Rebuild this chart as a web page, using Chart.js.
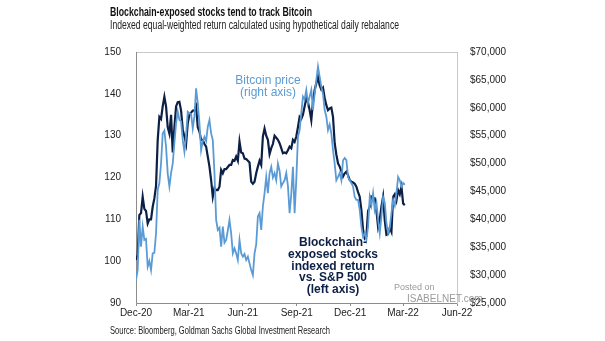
<!DOCTYPE html>
<html>
<head>
<meta charset="utf-8">
<script src="https://cdn.jsdelivr.net/npm/chart.js@4.4.1/dist/chart.umd.min.js"></script>
<style>
  html, body { margin: 0; padding: 0; background: #ffffff; }
  #wrap { width: 605px; height: 341px; }
</style>
</head>
<body>
<div id="wrap"><canvas id="btcChart" width="605" height="341"></canvas></div>
<script>
// sample spacing in days from 1 Dec 2020 (first sample) - one reading every ~2.85 days
const stepDays = 2.845;

// x axis ticks (days since 1 Dec 2020) and their labels
const tickDays = [0, 90, 182, 274, 365, 455, 547];
const tickLabels = ['Dec-20', 'Mar-21', 'Jun-21', 'Sep-21', 'Dec-21', 'Mar-22', 'Jun-22'];

// Blockchain-exposed stocks indexed return vs. S&P 500 (left axis)
const blockchainIdx = [
  100.3, 101.5, 111, 111.5, 115.4, 112.5, 112, 109, 110, 110,
  113, 115, 118, 129, 134.5, 134, 137, 139.3, 137, 132,
  130.5, 135, 126, 132, 137, 138, 138.1, 136, 131.5, 129.8,
  128, 133, 135, 135.5, 136, 136, 137, 132, 131, 129,
  129, 128, 127.4, 125, 122.6, 119.4, 115.4, 117.5, 117, 117,
  117.8, 121.8, 121, 122, 122, 122.5, 123, 123, 124.2, 124,
  125, 124, 128.6, 126, 125.8, 124.5, 124.4, 124, 123.6, 119,
  118.5, 119, 121, 122.6, 124, 123, 129.8, 131.7, 130, 129,
  125.6, 127, 128, 130, 129.5, 129, 128.2, 127, 125.8, 126,
  125.8, 126.5, 127.4, 127, 129, 128.5, 129.8, 132, 134.5, 134,
  135, 137, 138.9, 138, 136.1, 133.7, 138.1, 140.9, 142.5, 144.1,
  142, 141, 141.5, 139, 137.3, 136.1, 136.5, 136.7, 134.5, 128.2,
  125.5, 123.4, 122.6, 121.5, 120.2, 121, 121.4, 120.5, 119.4, 119,
  118.8, 118.5, 117.8, 116.5, 115.4, 112.2, 107.5, 105.5, 106, 112,
  113, 115.4, 115, 115, 112, 108.2, 110, 113, 115.4, 109.8,
  106.3, 106.5, 108, 107, 115.4, 116, 114.5, 117, 116, 117.8,
  113.8, 113.4
];

// Bitcoin price, USD (right axis)
const bitcoinPrice = [
  29100, 30900, 39900, 35100, 38700, 36300, 36500, 31500, 32500, 30900,
  33900, 34000, 37500, 45300, 46500, 50000, 55400, 55900, 53000, 48200,
  45900, 48300, 50000, 53700, 57200, 59300, 57800, 57600, 54200, 52100,
  55000, 59300, 59000, 58900, 56300, 58500, 63500, 60800, 57200, 52400,
  54000, 54800, 54000, 56600, 57800, 55400, 54200, 48300, 39900, 38100,
  38500, 35100, 38700, 35800, 36300, 38000, 39900, 37500, 33900, 34800,
  33900, 32700, 36300, 33900, 33300, 33800, 32700, 33300, 32100, 30900,
  30000, 33900, 35500, 40500, 41100, 38100, 42300, 44700, 47600, 44700,
  48300, 49400, 47500, 48300, 47000, 50000, 48700, 45900, 46500, 47000,
  48300, 46000, 41100, 44500, 49400, 41100, 47000, 54800, 56000, 59000,
  62000, 61500, 63200, 60800, 62000, 63200, 59600, 62500, 65000, 67400,
  65600, 63800, 62500, 59600, 58400, 56000, 57000, 55400, 52400, 50000,
  47000, 47600, 48300, 47000, 50600, 51000, 50600, 47600, 47000, 46500,
  45900, 44000, 43500, 43500, 41700, 38700, 36900, 37500, 36300, 38700,
  44000, 42500, 44700, 41700, 43000, 39900, 37500, 40500, 44000, 43000,
  39300, 37500, 38500, 41100, 43500, 42500, 44700, 47600, 47000, 45900,
  46500, 46200
];

const navy = '#0c1f45';
const lightBlue = '#5b9bd5';

const toPoints = arr => arr.map((v, i) => ({ x: i * stepDays, y: v }));

// header / source font is a narrow face: squeeze text into the width it has in the original
function fitText(ctx, text, x, y, width) {
  const w = ctx.measureText(text).width;
  ctx.save();
  ctx.translate(x, y);
  ctx.scale(width / w, 1);
  ctx.fillText(text, 0, 0);
  ctx.restore();
}

const textLayer = {
  id: 'textLayer',
  beforeDatasetsDraw(chart) {
    const { ctx, chartArea: a } = chart;
    ctx.save();
    ctx.strokeStyle = '#c8c8c8';
    ctx.lineWidth = 1;
    ctx.strokeRect(a.left + 0.5, a.top + 0.5, a.right - a.left, a.bottom - a.top);
    ctx.strokeStyle = '#8c8c8c';
    ctx.beginPath();
    ctx.moveTo(a.left + 0.5, a.top);
    ctx.lineTo(a.left + 0.5, a.bottom + 0.5);
    ctx.lineTo(a.right, a.bottom + 0.5);
    ctx.stroke();
    ctx.restore();
  },
  afterDraw(chart) {
    const { ctx } = chart;
    ctx.save();
    ctx.textBaseline = 'alphabetic';
    ctx.textAlign = 'left';
    ctx.fillStyle = '#111111';
    ctx.font = 'bold 13px "Liberation Sans", Arial, sans-serif';
    fitText(ctx, 'Blockchain-exposed stocks tend to track Bitcoin', 110, 16, 202);
    ctx.fillStyle = '#222222';
    ctx.font = '12px "Liberation Sans", Arial, sans-serif';
    fitText(ctx, 'Indexed equal-weighted return calculated using hypothetical daily rebalance', 110, 29, 289);
    ctx.font = '11.5px "Liberation Sans", Arial, sans-serif';
    fitText(ctx, 'Source: Bloomberg, Goldman Sachs Global Investment Research', 110, 334, 220);

    ctx.textAlign = 'center';
    ctx.fillStyle = lightBlue;
    ctx.font = '12px "Liberation Sans", Arial, sans-serif';
    ctx.fillText('Bitcoin price', 268, 84);
    ctx.fillText('(right axis)', 268, 96);

    ctx.fillStyle = navy;
    ctx.font = 'bold 12px "Liberation Sans", Arial, sans-serif';
    const lines = ['Blockchain-', 'exposed stocks', 'indexed return', 'vs. S&P 500', '(left axis)'];
    lines.forEach((t, i) => ctx.fillText(t, 333, 246 + i * 11.8));

    ctx.textAlign = 'left';
    ctx.fillStyle = '#9a9a9a';
    ctx.font = '9px "Liberation Sans", Arial, sans-serif';
    ctx.fillText('Posted on', 394, 290);
    ctx.font = '10px "Liberation Sans", Arial, sans-serif';
    ctx.fillText('ISABELNET.com', 407, 302);
    ctx.restore();
  }
};

const ctx = document.getElementById('btcChart').getContext('2d');
const tickFont = { family: '"Liberation Sans", Arial, sans-serif', size: 10 };

let myChart = new Chart(ctx, {
  type: 'line',
  data: {
    datasets: [
      {
        label: 'Bitcoin price (right axis)',
        data: toPoints(bitcoinPrice),
        yAxisID: 'yRight',
        borderColor: lightBlue,
        borderWidth: 1.8,
        pointRadius: 0,
        tension: 0
      },
      {
        label: 'Blockchain-exposed stocks indexed return vs. S&P 500 (left axis)',
        data: toPoints(blockchainIdx),
        yAxisID: 'yLeft',
        borderColor: navy,
        borderWidth: 2.2,
        pointRadius: 0,
        tension: 0
      }
    ]
  },
  options: {
    responsive: false,
    animation: false,
    layout: { padding: { top: 52, right: 0, left: 0, bottom: 0 } },
    plugins: {
      legend: { display: false },
      tooltip: { enabled: false }
    },
    scales: {
      x: {
        type: 'linear',
        min: 0,
        max: 547,
        afterBuildTicks(scale) { scale.ticks = tickDays.map(v => ({ value: v })); },
        afterFit(scale) { scale.height = 38; },
        ticks: {
          color: '#222222',
          font: tickFont,
          padding: 1,
          maxRotation: 0,
          autoSkip: false,
          callback: (v) => tickLabels[tickDays.indexOf(v)] || ''
        },
        grid: { display: true, drawOnChartArea: false, tickLength: 3, color: '#8c8c8c' },
        border: { display: false }
      },
      yLeft: {
        position: 'left',
        min: 90,
        max: 150,
        afterFit(scale) { scale.width = 136; },
        ticks: { stepSize: 10, color: '#222222', font: tickFont, padding: 7 },
        grid: { display: false },
        border: { display: false }
      },
      yRight: {
        position: 'right',
        min: 25000,
        max: 70000,
        afterFit(scale) { scale.width = 148; },
        ticks: {
          stepSize: 5000,
          color: '#222222',
          font: tickFont,
          padding: 5,
          callback: (v) => '$' + v.toLocaleString('en-US')
        },
        grid: { display: false },
        border: { display: false }
      }
    }
  },
  plugins: [textLayer]
});
</script>
</body>
</html>
